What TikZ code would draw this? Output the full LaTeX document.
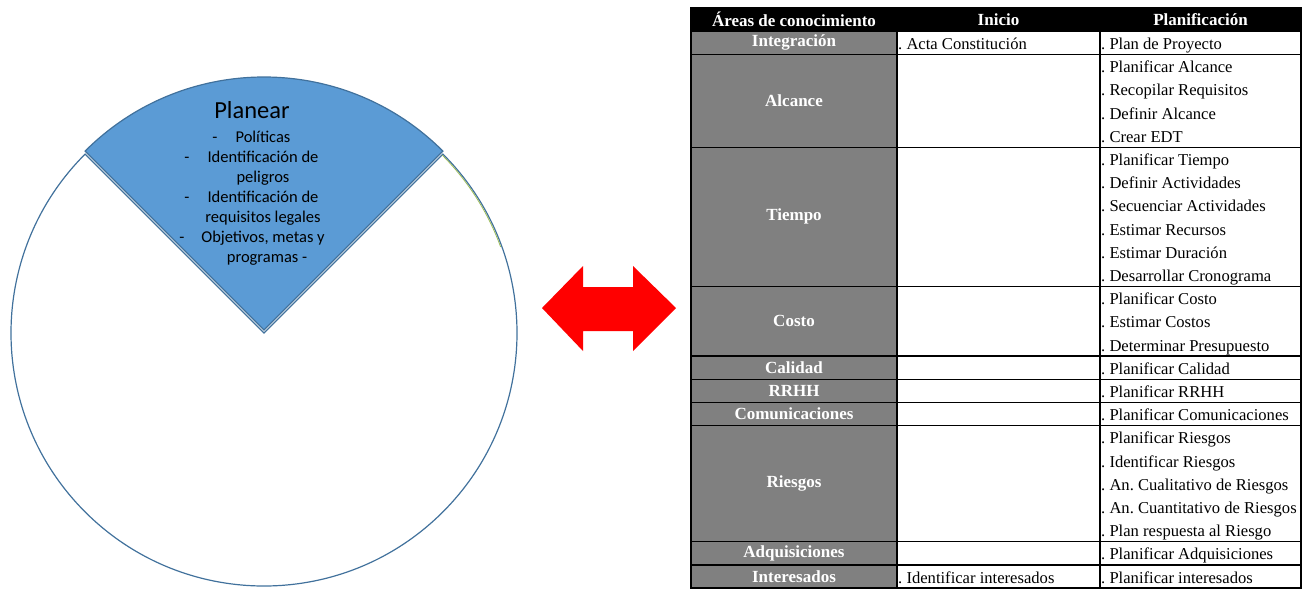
\documentclass[tikz,border=0pt]{standalone}
\usepackage{fontspec}
\setmainfont{Liberation Serif}
\newfontfamily\wedgefont{Carlito}
\usepackage{tikz}
\usetikzlibrary{positioning}
\usepackage{xcolor}
\definecolor{pieblue}{RGB}{91,155,213}
\definecolor{pieline}{RGB}{65,113,156}
\definecolor{piegreen}{RGB}{155,187,89}
\definecolor{areagray}{RGB}{128,128,128}
\newcommand{\rowh}{23.2}
\frenchspacing

\begin{document}
\begin{tikzpicture} [
    x = 1pt, y = 1pt,
    every node/.style = { inner sep = 0 },
    cell/.style = { draw, line width = 1.4pt, outer sep = 0, rectangle, anchor = north west, minimum width = 203pt },
    areacell/.style = { cell, fill = areagray, minimum width = 206pt, text = white, font = \fontsize{17}{20}\selectfont\bfseries },
    headcell/.style = { cell, fill = black, minimum height = \rowh pt, text = white, font = \fontsize{17}{20}\selectfont\bfseries },
    item/.style = { anchor = base west, font = \fontsize{16.6}{20}\selectfont },
    wedgetext/.style = { anchor = base, font = \wedgefont\fontsize{16.5}{19}\selectfont }
    ]
  \useasboundingbox (0,0) rectangle (1310,-590);

  % pie
  \coordinate (c) at (264,-333);
  \coordinate (cw) at (264,-330);
  \draw [pieline, line width = 1.2pt] (c) -- ++(45:253) arc [start angle = 45, end angle = -225, radius = 253] -- cycle;
  \draw [piegreen, line width = 0.8pt] ([shift = {(45:251.8)}] c) arc [start angle = 45, end angle = 20, radius = 251.8];
  \filldraw [fill = pieblue, draw = pieline, line width = 1.2pt] (cw) -- ++(45:253) arc [start angle = 45, end angle = 135, radius = 253] -- cycle;

  \node [anchor = base, font = \wedgefont\fontsize{24.5}{28}\selectfont] (planear) at (252,-118) {Planear};
  \node [wedgetext] (w1) at (263,-142) {Políticas};
  \node [wedgetext] (w2) at (263,-162) {Identificación de};
  \node [wedgetext] (w3) at (263,-182) {peligros};
  \node [wedgetext] (w4) at (263,-202) {Identificación de};
  \node [wedgetext] (w5) at (263,-222) {requisitos legales};
  \node [wedgetext] (w6) at (263,-242) {Objetivos, metas y};
  \node [wedgetext] (w7) at (267,-262) {programas -};
  \node [wedgetext] (d1) at (215,-142) {-};
  \node [wedgetext] (d2) at (187,-162) {-};
  \node [wedgetext] (d4) at (187,-202) {-};
  \node [wedgetext] (d6) at (182,-242) {-};

  % double arrow
  \fill [red] (542,-308) -- (583,-266) -- (583,-287) -- (633,-287) -- (633,-266) -- (676,-308)
    -- (633,-351) -- (633,-331) -- (583,-331) -- (583,-351) -- cycle;

  % table
  \node [headcell, minimum width = 206pt] (harea) at (691,-8) {Áreas de conocimiento};
  \node [headcell, right = 0pt of harea] (hini) {Inicio};
  \node [headcell, minimum width = 201pt, right = 0pt of hini] (hplan) {Planificación};

  \foreach \nm/\first/\n/\lbl in {int/1/1/Integración, alc/2/4/Alcance, tie/6/6/Tiempo, cos/12/3/Costo,
      cal/15/1/Calidad, rrhh/16/1/RRHH, com/17/1/Comunicaciones, rie/18/5/Riesgos,
      adq/23/1/Adquisiciones, intr/24/1/Interesados} {
    \node [areacell, minimum height = {\n*\rowh*1pt}] (\nm) at (691,{-8-\first*\rowh}) {\lbl};
    \node [cell, minimum height = {\n*\rowh*1pt}, right = 0pt of \nm] (\nm ini) {};
    \node [cell, minimum width = 201pt, minimum height = {\n*\rowh*1pt}, right = 0pt of \nm ini] (\nm plan) {};
  }

  \node [item] (ini1) at (898,{-8-2*\rowh+5}) {. Acta Constitución};
  \node [item] (ini24) at (898,{-8-25*\rowh+5}) {. Identificar interesados};

  \foreach \t [count = \i] in {Plan de Proyecto, Planificar Alcance, Recopilar Requisitos, Definir Alcance,
      Crear EDT, Planificar Tiempo, Definir Actividades, Secuenciar Actividades, Estimar Recursos,
      Estimar Duración, Desarrollar Cronograma, Planificar Costo, Estimar Costos, Determinar Presupuesto,
      Planificar Calidad, Planificar RRHH, Planificar Comunicaciones, Planificar Riesgos,
      Identificar Riesgos, An. Cualitativo de Riesgos, An. Cuantitativo de Riesgos,
      Plan respuesta al Riesgo, Planificar Adquisiciones, Planificar interesados}
    \node [item] (plan\i) at (1101,{-8-(\i+1)*\rowh+5}) {. \t};
\end{tikzpicture}
\end{document}
